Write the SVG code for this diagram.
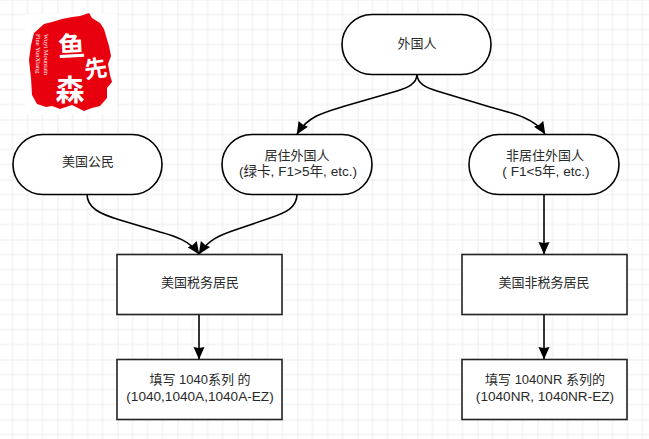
<svg xmlns="http://www.w3.org/2000/svg" width="649" height="439" viewBox="0 0 649 439">
<defs>
<pattern id="grid" width="60" height="60" patternUnits="userSpaceOnUse" x="-2.500" y="-0.500">
<path d="M15 0V60M30 0V60M45 0V60M0 15H60M0 30H60M0 45H60" fill="none" stroke="#ececec" stroke-width="1"/>
<path d="M0 0V60M0 0H60" fill="none" stroke="#dcdcdc" stroke-width="1"/>
</pattern>
<marker id="arrow" markerWidth="14" markerHeight="14" refX="12" refY="6.500" orient="auto" markerUnits="userSpaceOnUse">
<path d="M0 1L12.500 6.500L0 12L1 6.500Z" fill="#000"/>
</marker>
</defs>
<style>
.n{fill:#fff;stroke:#000;stroke-width:1.6}
.r{fill:#fff;stroke:#222;stroke-width:1.6}
.c{fill:none;stroke:#000;stroke-width:1.6;marker-end:url(#arrow)}
text{font-family:"Liberation Sans","Noto Sans CJK SC",sans-serif;font-size:13px;fill:#2a2a2a;text-anchor:middle}
.l2{font-size:13.600px}
.sm{font-family:"Liberation Serif","Noto Sans CJK SC",serif;font-size:6.500px;fill:#fff;text-anchor:start}
.big{font-family:"Noto Sans CJK SC",sans-serif;font-weight:700;fill:#fff}
.b1{font-size:27px}
.b2{font-size:23px}
.b3{font-size:29px}
</style>
<rect width="649" height="439" fill="#fff"/>
<rect width="649" height="439" fill="url(#grid)"/>
<g id="logo">
<rect x="25" y="14" width="92" height="100" fill="#fff"/>
<path d="M34 33L44 24L52 22L62 19L72 17L80 16L89 13L92 18L100 23L104 29L106 36L109 46L111 56L108 64L110 75L112 82L107 88L107 98L100 106L92 108L84 111L72 105L60 109L52 106L46 107L37 104L32 95L31 78L29 60L31 45Z" fill="#e8000f"/>
<text class="big b1" x="72" y="56" transform="rotate(-3 72 56)">鱼</text>
<text class="big b2" x="97" y="77" transform="rotate(-8 97 77)">先</text>
<text class="big b3" x="70" y="101">森</text>
<text class="sm" transform="translate(44 34) rotate(90)">Wuyi Mountain</text>
<text class="sm" transform="translate(36 34) rotate(90)">Fine YunXiang</text>
</g>
<g id="connectors">
<path class="c" d="M417 74C417 84 407 88 397 91L345 106C325 112 308 116 297 134"/>
<path class="c" d="M417 74C417 84 427 88 437 91L490 107C512 113 535 118 545 134"/>
<path class="c" d="M87 194C87 208 100 214 120 220L160 232C175 236 190 241 199 254"/>
<path class="c" d="M297 194C297 208 285 213 270 218L235 230C220 235 208 240 199 254"/>
<path class="c" d="M544 194V254"/>
<path class="c" d="M199 314V359"/>
<path class="c" d="M544 314V359"/>
</g>
<g id="foreigner">
<rect class="n" x="342" y="14.500" width="149" height="60" rx="30" ry="30"/>
<text x="417" y="48">外国人</text>
</g>
<g id="citizen">
<rect class="n" x="13" y="134.500" width="149" height="60" rx="30" ry="30"/>
<text x="88" y="166">美国公民</text>
</g>
<g id="resident">
<rect class="n" x="222" y="134.500" width="150" height="60" rx="30" ry="30"/>
<text x="297" y="160">居住外国人</text>
<text class="l2" x="298" y="176">(绿卡, F1&gt;5年, etc.)</text>
</g>
<g id="nonresident">
<rect class="n" x="469" y="134.500" width="150" height="60" rx="30" ry="30"/>
<text x="545" y="160">非居住外国人</text>
<text class="l2" x="546" y="176">( F1&lt;5年, etc.)</text>
</g>
<g id="tax-resident">
<rect class="r" x="117" y="254.500" width="165" height="60"/>
<text x="200" y="287">美国税务居民</text>
</g>
<g id="tax-nonresident">
<rect class="r" x="462" y="254.500" width="165" height="60"/>
<text x="544" y="287">美国非税务居民</text>
</g>
<g id="form-1040">
<rect class="r" x="117" y="359.500" width="165" height="60"/>
<text x="200" y="384">填写 1040系列 的</text>
<text class="l2" x="200" y="401">(1040,1040A,1040A-EZ)</text>
</g>
<g id="form-1040nr">
<rect class="r" x="462" y="359.500" width="165" height="60"/>
<text x="545" y="384">填写 1040NR 系列的</text>
<text class="l2" x="545" y="401">(1040NR, 1040NR-EZ)</text>
</g>
</svg>
